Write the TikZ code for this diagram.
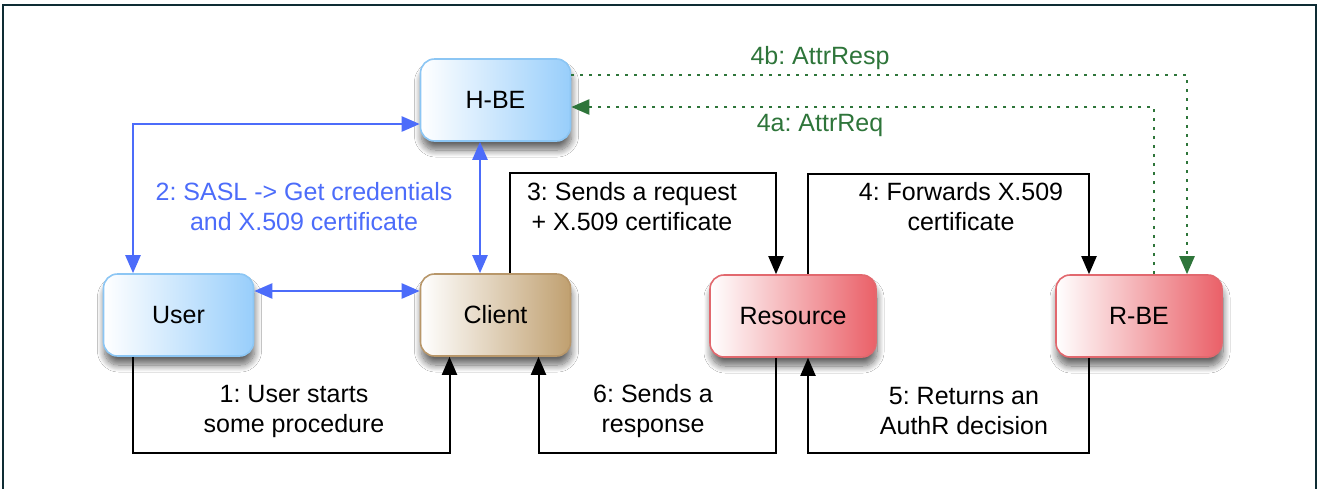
\documentclass[tikz,border=0pt]{standalone}
\usepackage{fontspec}
\setmainfont{Liberation Sans}
\usetikzlibrary{arrows.meta,shadows.blur}

\definecolor{framec}{RGB}{14,44,52}
\definecolor{flowblue}{RGB}{76,108,250}
\definecolor{flowgreen}{RGB}{46,117,58}
\definecolor{beblue}{RGB}{152,206,251}
\definecolor{bebluedraw}{RGB}{140,198,244}
\definecolor{tan}{RGB}{192,160,112}
\definecolor{tandraw}{RGB}{184,151,106}
\definecolor{rose}{RGB}{234,96,104}
\definecolor{rosedraw}{RGB}{226,104,110}

\tikzset{
  box/.style={rectangle, rounded corners=14pt, line width=1.6pt,
    minimum height=82pt, left color=white, text=black,
    blur shadow={shadow xshift=1pt, shadow yshift=-9pt,
      shadow blur radius=7pt, shadow opacity=60, shadow blur steps=12}},
  bluebox/.style={box, minimum width=150pt, right color=beblue, draw=bebluedraw},
  tanbox/.style={box, minimum width=150pt, right color=tan, draw=tandraw},
  rosebox/.style={box, minimum width=166pt, right color=rose, draw=rosedraw},
  tip/.style={-{Triangle[length=18pt,width=15pt]}},
  twotip/.style={{Triangle[length=18pt,width=15pt]}-{Triangle[length=18pt,width=15pt]}},
  blueflow/.style={draw=flowblue, fill=none, line width=2.4pt, twotip},
  blackflow/.style={draw=black, line width=2pt, tip},
  greenflow/.style={draw=flowgreen, line width=2.4pt, dash pattern=on 3pt off 6pt, tip},
  lbl/.style={align=center, inner sep=0pt}
}

\begin{document}
\frenchspacing
\begin{tikzpicture}[x=1pt, y=-1pt, font=\fontsize{25}{30}\selectfont]
\useasboundingbox (0,0) rectangle (1320,488);
\fill[white] (0,0) rectangle (1320,488);

% outer frame
\draw[framec, line width=2pt] (3,492) -- (3,5) -- (1316,5) -- (1316,492);

% parties
\node[bluebox] (HBE) at (495.5,100) {H-BE};
\node[bluebox] (User) at (178.5,315) {User};
\node[tanbox] (Client) at (495.5,315) {Client};
\node[rosebox] (Resource) at (793,316) {Resource};
\node[rosebox] (RBE) at (1139,316) {R-BE};

% SASL exchange
\draw[blueflow] ([xshift=-45.5pt]User.north) |- ([yshift=-24pt]HBE.west);
\draw[blueflow] ([xshift=-15.5pt]Client.north) -- ([xshift=-15.5pt]HBE.south);
\draw[blueflow] ([yshift=24pt]User.east) -- ([yshift=24pt]Client.west);

% request / response chain
\draw[blackflow] ([xshift=14pt]Client.north) -- ++(0,-100) -| ([xshift=-17pt]Resource.north);
\draw[blackflow] ([xshift=15pt]Resource.north) -- ++(0,-100) -| ([xshift=-50pt]RBE.north);
\draw[blackflow] ([xshift=-45.5pt]User.south) -- ++(0,96) -| ([xshift=-46pt]Client.south);
\draw[blackflow] ([xshift=-17pt]Resource.south) -- ++(0,95) -| ([xshift=43pt]Client.south);
\draw[blackflow] ([xshift=-50pt]RBE.south) -- ++(0,95) -| ([xshift=15pt]Resource.south);

% attribute query between back ends
\draw[greenflow] ([yshift=25pt]HBE.east) -| ([xshift=48pt]RBE.north);
\draw[greenflow] ([xshift=15pt]RBE.north) |- ([yshift=-7pt]HBE.east);

% labels
\node[lbl, text=flowblue] (l2) at (304,207) {2: SASL -> Get credentials\\and X.509 certificate};
\node[lbl] (l3) at (632,207) {3: Sends a request\\+ X.509 certificate};
\node[lbl] (l4) at (961,207) {4: Forwards X.509\\certificate};
\node[lbl, text=flowgreen] (l4b) at (820,58) {4b: AttrResp};
\node[lbl, text=flowgreen] (l4a) at (820,125) {4a: AttrReq};
\node[lbl] (l1) at (294,411) {1: User starts\\some procedure};
\node[lbl] (l6) at (653,411) {6: Sends a\\response};
\node[lbl] (l5) at (964,411) {5: Returns an\\AuthR decision};
\end{tikzpicture}
\end{document}
